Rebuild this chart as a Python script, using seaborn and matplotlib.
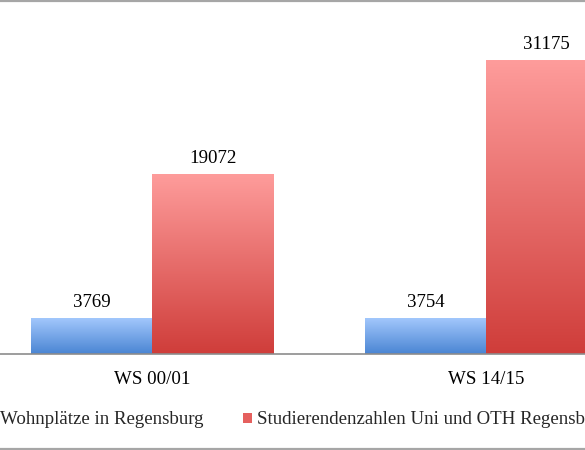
import numpy as np
import pandas as pd
import seaborn as sns
import matplotlib.pyplot as plt
from matplotlib.colors import LinearSegmentedColormap
from matplotlib.lines import Line2D
from matplotlib.patches import Patch

semesters = ['WS 00/01', 'WS 14/15']
series = ['Wohnplätze in Regensburg', 'Studierendenzahlen Uni und OTH Regensburg']
wohnplaetze = [3769, 3754]
studierende = [19072, 31175]

df = pd.DataFrame({
    'semester': semesters * 2,
    'serie': [series[0]] * 2 + [series[1]] * 2,
    'wert': wohnplaetze + studierende,
})

# gradient ends (bottom, top) for each series
grad = {
    series[0]: ('#4a85d3', '#a2c7fc'),
    series[1]: ('#cf3d3a', '#fe9c9b'),
}
mid = {series[0]: '#76a6e8', series[1]: '#e5605e'}

sns.set_style('white')
plt.rcParams['font.family'] = ['Liberation Serif', 'DejaVu Serif']
fs = 13.6

fig = plt.figure(figsize=(5.85, 4.5), dpi=100)
ax = fig.add_axes([0, 96 / 450, 1, 354 / 450])

sns.barplot(data=df, x='semester', y='wert', hue='serie', hue_order=series,
            palette=mid, width=0.725, saturation=1, legend=False, ax=ax)

for cont, name in zip(ax.containers, series):
    cmap = LinearSegmentedColormap.from_list(name, grad[name])
    for bar in cont:
        x0, y0 = bar.get_x(), bar.get_y()
        w, h = bar.get_width(), bar.get_height()
        ax.imshow(np.linspace(0, 1, 256).reshape(-1, 1), cmap=cmap, origin='lower',
                  extent=[x0, x0 + w, y0, y0 + h], aspect='auto', zorder=2)
        bar.set_facecolor('none')
    ax.bar_label(cont, labels=[str(int(v)) for v in cont.datavalues],
                 padding=5.5, fontsize=fs, color='black')

ax.set_xlim(-152 / 334, 433 / 334)
ax.set_ylim(0, 37660)
ax.set_yticks([])
ax.set_xlabel('')
ax.set_ylabel('')
ax.tick_params(axis='x', length=0, pad=12, labelsize=fs, labelcolor='black')
for s in ['top', 'left', 'right']:
    ax.spines[s].set_visible(False)
ax.spines['bottom'].set_color('#8c8c8c')
ax.spines['bottom'].set_linewidth(1.2)

handles = [Patch(facecolor=mid[s], edgecolor='none') for s in series]
fig.legend(handles, series, ncol=2, loc='center left',
           bbox_to_anchor=(-13 / 585, 1 - 420 / 450), frameon=False,
           fontsize=fs, borderpad=0, borderaxespad=0,
           handlelength=0.48, handleheight=0.48, handletextpad=0.22,
           columnspacing=2.1)

for yy in [1 - 1 / 450, 1 / 450]:
    fig.add_artist(Line2D([0, 1], [yy, yy], transform=fig.transFigure,
                          color='#a6a6a6', lw=1.6))

fig.savefig('out.png', dpi=100)
